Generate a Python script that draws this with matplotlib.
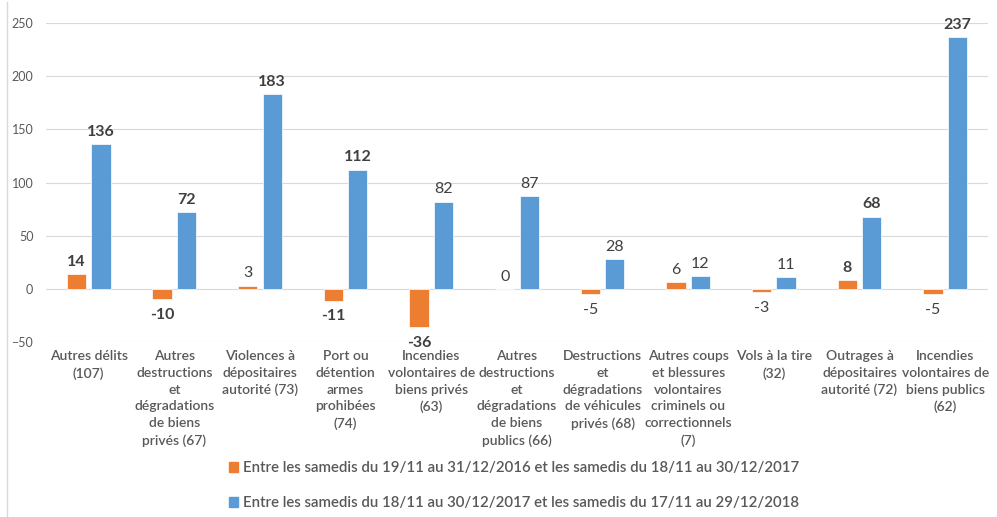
import matplotlib.pyplot as plt
import numpy as np
from matplotlib.lines import Line2D
from matplotlib.patches import Patch
from matplotlib.transforms import blended_transform_factory, offset_copy

plt.rcParams['font.family'] = ['Lato', 'DejaVu Sans']

categories = [
    "Autres délits\n(107)",
    "Autres\ndestructions\net\ndégradations\nde biens\nprivés (67)",
    "Violences à\ndépositaires\nautorité (73)",
    "Port ou\ndétention\narmes\nprohibées\n(74)",
    "Incendies\nvolontaires de\nbiens privés\n(63)",
    "Autres\ndestructions\net\ndégradations\nde biens\npublics (66)",
    "Destructions\net\ndégradations\nde véhicules\nprivés (68)",
    "Autres coups\net blessures\nvolontaires\ncriminels ou\ncorrectionnels\n(7)",
    "Vols à la tire\n(32)",
    "Outrages à\ndépositaires\nautorité (72)",
    "Incendies\nvolontaires de\nbiens publics\n(62)",
]
evol_2017 = [14, -10, 3, -11, -36, 0, -5, 6, -3, 8, -5]
evol_2018 = [136, 72, 183, 112, 82, 87, 28, 12, 11, 68, 237]
bold_2017 = [True, True, False, True, True, False, False, False, False, True, False]
bold_2018 = [True, True, True, True, False, False, False, False, False, True, True]

legend_labels = [
    "Entre les samedis du 19/11 au 31/12/2016 et les samedis du 18/11 au 30/12/2017",
    "Entre les samedis du 18/11 au 30/12/2017 et les samedis du 17/11 au 29/12/2018",
]

orange = "#ED7D31"
blue = "#5B9BD5"
txt = "#595959"

fig = plt.figure(figsize=(9.97, 5.17), dpi=100)
ax = fig.add_axes([0.046, 0.3385, 0.945, 0.617])

x = np.arange(len(categories))
w = 0.225
b1 = ax.bar(x - w / 2 - 0.03, evol_2017, w, color=orange, edgecolor="white", linewidth=0.5, zorder=3)
b2 = ax.bar(x + w / 2 + 0.03, evol_2018, w, color=blue, edgecolor="white", linewidth=0.5, zorder=3)

for bar, v, bd in zip(b1, evol_2017, bold_2017):
    cx = bar.get_x() + bar.get_width() / 2
    if v >= 0:
        ax.text(cx, v + 5, str(v), ha="center", va="bottom", fontsize=11.5,
                color="#404040", fontweight="bold" if bd else "normal")
    else:
        ax.text(cx, v - 8, str(v), ha="center", va="top", fontsize=11.5,
                color="#404040", fontweight="bold" if bd else "normal")
for bar, v, bd in zip(b2, evol_2018, bold_2018):
    cx = bar.get_x() + bar.get_width() / 2
    ax.text(cx, v + 5, str(v), ha="center", va="bottom", fontsize=11.5,
            color="#404040", fontweight="bold" if bd else "normal")

ax.set_xlim(-0.5, len(categories) - 0.5)
ax.set_ylim(-50, 250)
ax.set_yticks(range(-50, 251, 50))
ax.yaxis.grid(True, color="#D9D9D9", linewidth=0.8, zorder=0)
ax.set_axisbelow(True)
for s in ax.spines.values():
    s.set_visible(False)
ax.tick_params(axis="y", length=0, labelsize=9, labelcolor=txt, pad=9)
ax.set_xticks([])

# category labels under the axis (x in data, y in axes coords)
trans = offset_copy(blended_transform_factory(ax.transData, ax.transAxes),
                    fig=fig, y=-8, units="dots")
for xi, lab in zip(x, categories):
    ax.text(xi, 0, lab, transform=trans, ha="center", va="top", fontsize=10,
            color=txt, fontweight="semibold", linespacing=1.48, clip_on=False)

handles = [Patch(color=orange), Patch(color=blue)]
fig.legend(handles, legend_labels, loc="upper left", bbox_to_anchor=(0.222, 0.122),
           frameon=False, fontsize=10.8, labelcolor=txt, handlelength=0.6,
           handleheight=0.6, handletextpad=0.35, labelspacing=1.4, borderpad=0)
for t in fig.legends[0].get_texts():
    t.set_fontweight("semibold")

fig.add_artist(Line2D([0.007, 0.007], [0.0, 0.997], color="#D9D9D9", linewidth=1))

fig.savefig("out.png", dpi=100)
